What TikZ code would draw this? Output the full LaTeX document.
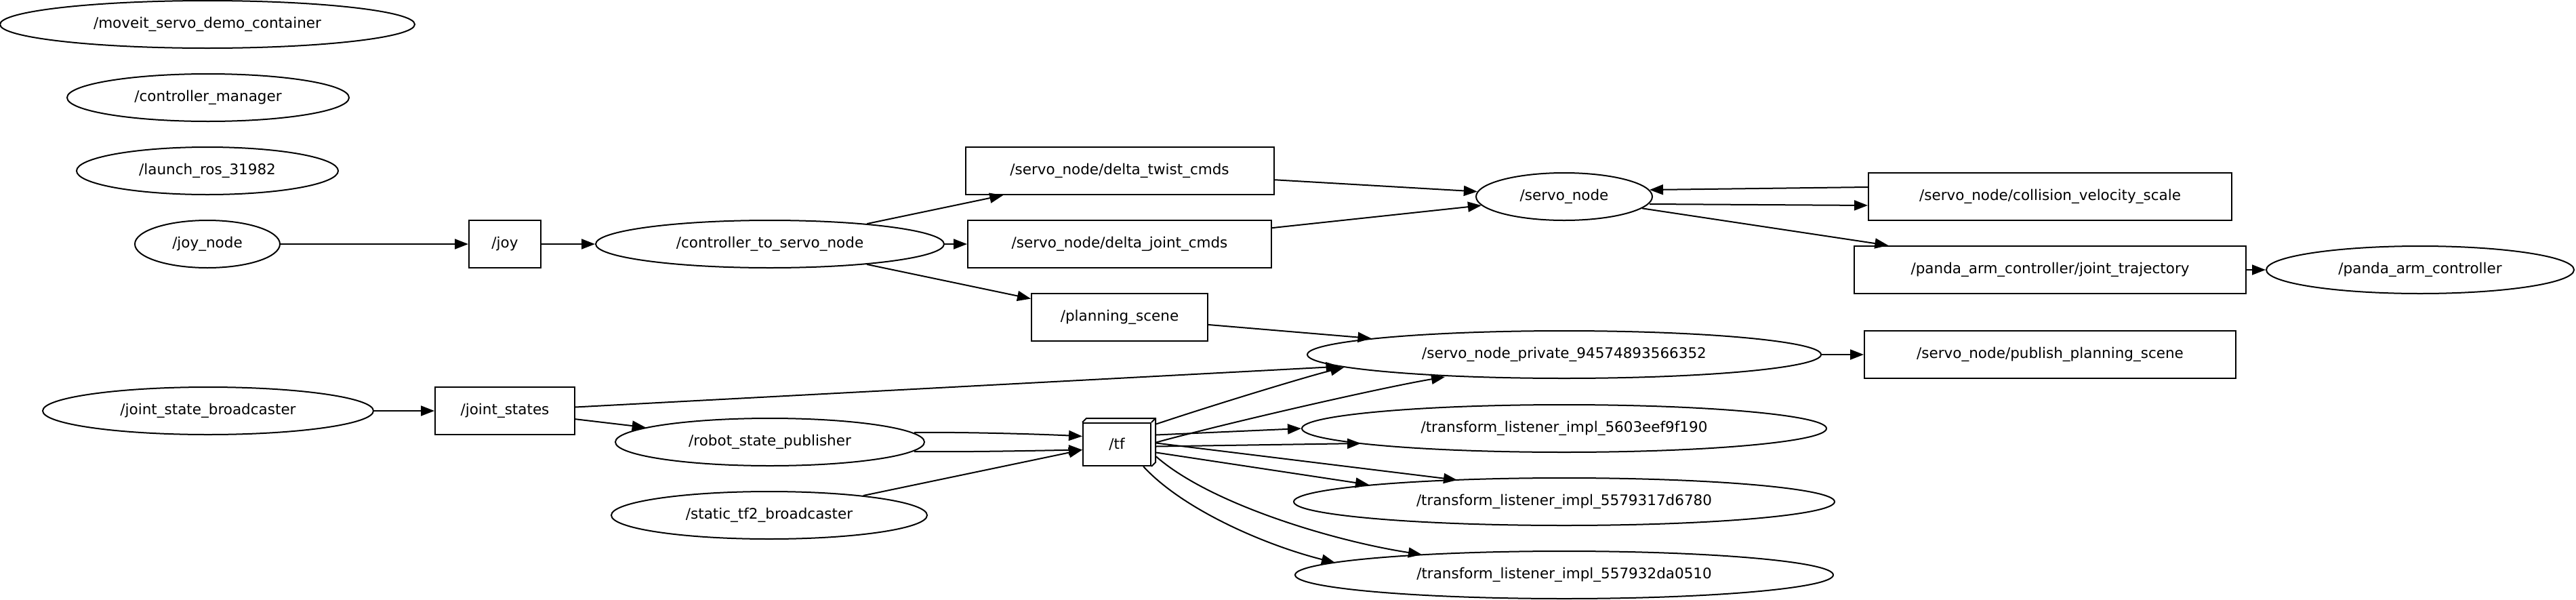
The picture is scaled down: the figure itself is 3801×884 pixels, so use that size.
\documentclass[tikz,border=0pt]{standalone}
\usepackage{fontspec}
\newfontfamily\nodefont{DejaVu Sans}
\usetikzlibrary{shapes.geometric,arrows.meta,calc}
\tikzset{
  lbl/.style={font={\nodefont\fontsize{21.5pt}{26pt}\selectfont}, inner sep=0pt},
  rosnode/.style={lbl, ellipse, draw, line width=2pt, minimum height=70pt},
  topic/.style={lbl, rectangle, draw, line width=2pt, minimum height=70pt},
  conn/.style={line width=2pt, -{Triangle[length=20pt,width=15pt]}},
}
\begin{document}
\begin{tikzpicture}[x=1pt,y=-1pt]
\useasboundingbox (0,0) rectangle (3801,884);
% nodes
\node[rosnode, minimum width=612pt] (moveit) at (306,36) {/moveit\_servo\_demo\_container};
\node[rosnode, minimum width=416pt] (ctrlmgr) at (307,144) {/controller\_manager};
\node[rosnode, minimum width=386pt] (launch) at (306,252) {/launch\_ros\_31982};
\node[rosnode, minimum width=214pt] (joynode) at (306,360) {/joy\_node};
\node[topic, minimum width=106pt] (joy) at (745,360) {/joy};
\node[rosnode, minimum width=514pt] (c2s) at (1136,360) {/controller\_to\_servo\_node};
\node[topic, minimum width=455pt] (twist) at (1652,252) {/servo\_node/delta\_twist\_cmds};
\node[topic, minimum width=448pt] (jointcmds) at (1652,360) {/servo\_node/delta\_joint\_cmds};
\node[topic, minimum width=260pt] (pscene) at (1652,468) {/planning\_scene};
\node[rosnode, minimum width=260pt] (servo) at (2308,290) {/servo\_node};
\node[rosnode, minimum width=758pt] (snp) at (2308,523) {/servo\_node\_private\_94574893566352};
\node[topic, minimum width=536pt] (coll) at (3025,290) {/servo\_node/collision\_velocity\_scale};
\node[topic, minimum width=578pt] (jtraj) at (3025,398) {/panda\_arm\_controller/joint\_trajectory};
\node[rosnode, minimum width=454pt] (panda) at (3571,398) {/panda\_arm\_controller};
\node[topic, minimum width=548pt] (pubps) at (3025,523) {/servo\_node/publish\_planning\_scene};
\node[rosnode, minimum width=488pt] (jsb) at (307,606) {/joint\_state\_broadcaster};
\node[topic, minimum width=206pt] (jstates) at (745,606) {/joint\_states};
\node[rosnode, minimum width=456pt] (rsp) at (1136,652) {/robot\_state\_publisher};
\node[rosnode, minimum width=466pt] (stf) at (1135,760) {/static\_tf2\_broadcaster};
\node[topic, minimum width=100pt, minimum height=63pt] (tf) at (1648,655.5) {/tf};
\draw[line width=2pt] (tf.north west) -- ++(6,-6) -- ($(tf.north east)+(6,-6)$) -- ($(tf.south east)+(6,-6)$) -- (tf.south east);
\draw[line width=2pt] (tf.north east) -- ++(6,-6);
\node[rosnode, minimum width=774pt] (tl1) at (2308,632) {/transform\_listener\_impl\_5603eef9f190};
\node[rosnode, minimum width=798pt] (tl2) at (2308,740) {/transform\_listener\_impl\_5579317d6780};
\node[rosnode, minimum width=794pt] (tl3) at (2308,848) {/transform\_listener\_impl\_557932da0510};
% edges
\draw[conn] (joynode) -- (joy);
\draw[conn] (joy) -- (c2s);
\draw[conn] (c2s) -- (twist);
\draw[conn] (c2s) -- (jointcmds);
\draw[conn] (c2s) -- (pscene);
\draw[conn] (twist) -- (servo);
\draw[conn] (jointcmds) -- (servo);
\draw[conn] ($(coll.west)+(0,-14)$) -- ($(servo.east)+(-5,-10)$);
\draw[conn] ($(servo.east)+(-5,11)$) -- ($(coll.west)+(0,13)$);
\draw[conn] (servo) -- (jtraj);
\draw[conn] (jtraj) -- (panda);
\draw[conn] (pscene) -- (snp);
\draw[conn] (snp) -- (pubps);
\draw[conn] (jsb) -- (jstates);
\draw[conn] (jstates) -- (snp);
\draw[conn] (jstates) -- (rsp);
\draw[conn] ($(rsp.east)+(-16,-14)$) .. controls ($(rsp.east)+(56,-15)$) and ($(tf.west)+(-58,-15)$) .. ($(tf.west)+(0,-12)$);
\draw[conn] ($(rsp.east)+(-16,14)$) .. controls ($(rsp.east)+(56,15)$) and ($(tf.west)+(-58,9)$) .. ($(tf.west)+(0,8)$);
\draw[conn] (stf) -- ($(tf.west)+(0,8)$);
% from /tf
\draw[conn] ($(tf.east)+(7,-30)$) .. controls ($(tf.east)+(97,-60)$) and ($(snp.west)+(5,31)$) .. ($(snp.west)+(55,19)$);
\draw[conn] ($(tf.east)+(7,-3)$) .. controls ($(tf.east)+(117,-33)$) and ($(snp.center)+(-266,48)$) .. ($(snp.center)+(-176,33)$);
\draw[conn] ($(tf.east)+(7,-14)$) -- (tl1.west);
\draw[conn] ($(tf.east)+(7,3)$) -- ($(tl1.center)+(-300,22)$);
\draw[conn] ($(tf.east)+(7,-2)$) -- ($(tl2.center)+(-158,-32)$);
\draw[conn] ($(tf.east)+(7,12)$) -- ($(tl2.center)+(-288,-25)$);
\draw[conn] ($(tf.south)+(39,0)$) .. controls ($(tf.south)+(99,65)$) and ($(tl3.center)+(-438,-43)$) .. ($(tl3.center)+(-338,-18)$);
\draw[conn] ($(tf.east)+(7,18)$) .. controls ($(tf.east)+(87,88)$) and ($(tl3.center)+(-340,-50)$) .. ($(tl3.center)+(-210,-30)$);
\end{tikzpicture}
\end{document}
